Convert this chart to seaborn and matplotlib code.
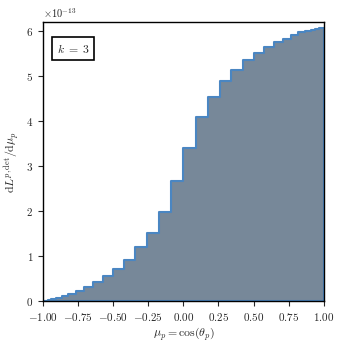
import numpy as np
import seaborn as sns
import matplotlib
matplotlib.use("Agg")
import matplotlib.pyplot as plt

# bin edges in mu_p = cos(theta_p) (bins are 5 degrees wide in theta)
edges = [-1.0, -0.9962, -0.9848, -0.9659, -0.9397, -0.9063, -0.8660, -0.8192,
         -0.7660, -0.7071, -0.6428, -0.5736, -0.5, -0.4226, -0.3420, -0.2588,
         -0.1736, -0.0872, 0.0, 0.0872, 0.1736, 0.2588, 0.3420, 0.4226, 0.5,
         0.5736, 0.6428, 0.7071, 0.7660, 0.8192, 0.8660, 0.9063, 0.9397,
         0.9659, 0.9848, 0.9962, 1.0]

# dL/dmu per bin, in units of 1e-13
heights = [0.002, 0.006, 0.013, 0.025, 0.045, 0.07, 0.11, 0.16, 0.24, 0.32,
           0.43, 0.56, 0.72, 0.93, 1.21, 1.53, 1.99, 2.67,
           3.41, 4.09, 4.55, 4.89, 5.15, 5.36, 5.52, 5.66, 5.76, 5.84,
           5.92, 5.98, 6.02, 6.04, 6.06, 6.07, 6.08, 6.08]

label = r"$k\;=\;3$"

centers = [(a + b) / 2 for a, b in zip(edges[:-1], edges[1:])]
weights = np.array(heights) * 1e-13

sns.set_style("ticks")
plt.rcParams["font.family"] = "serif"
plt.rcParams["font.serif"] = ["cmr10", "DejaVu Serif"]
plt.rcParams["mathtext.fontset"] = "cm"
plt.rcParams["axes.formatter.use_mathtext"] = True
plt.rcParams["font.size"] = 8

fig = plt.figure(figsize=(3.44, 3.46), dpi=100)
ax = fig.add_axes([0.125, 0.129, 0.816, 0.806])

sns.histplot(x=centers, weights=weights, bins=edges, element="step", fill=True,
             facecolor="#778899", edgecolor="#4a86c2", linewidth=1.5,
             alpha=1, ax=ax)

ax.set_xlim(-1, 1)
ax.set_ylim(0, 6.2e-13)
ax.set_xticks(np.arange(-1, 1.01, 0.25))
ax.xaxis.set_major_formatter(plt.FuncFormatter(lambda v, p: f"${v:.2f}$"))
ax.set_yticks(np.arange(0, 7) * 1e-13)
ax.ticklabel_format(axis="y", style="sci", scilimits=(0, 0), useMathText=True)
ax.tick_params(labelsize=8, width=0.8, length=3.5)
ax.yaxis.get_offset_text().set_fontsize(7.5)

ax.set_xlabel(r"$\mu_p = \cos(\theta_p)$", fontsize=8.5, labelpad=2)
ax.set_ylabel(r"$\mathrm{d}L^{p,\mathrm{det}}/\mathrm{d}\mu_p$", fontsize=8.5)
ax.yaxis.set_label_coords(-0.075, 0.5)

for s in ax.spines.values():
    s.set_visible(True)
    s.set_color("black")
    s.set_linewidth(1.0)

ax.text(0.05, 0.93, label, transform=ax.transAxes, fontsize=8.5, va="top",
        ha="left", bbox=dict(boxstyle="square,pad=0.4", facecolor="white",
                             edgecolor="black", linewidth=1.2))

fig.savefig("out.png", dpi=100)
